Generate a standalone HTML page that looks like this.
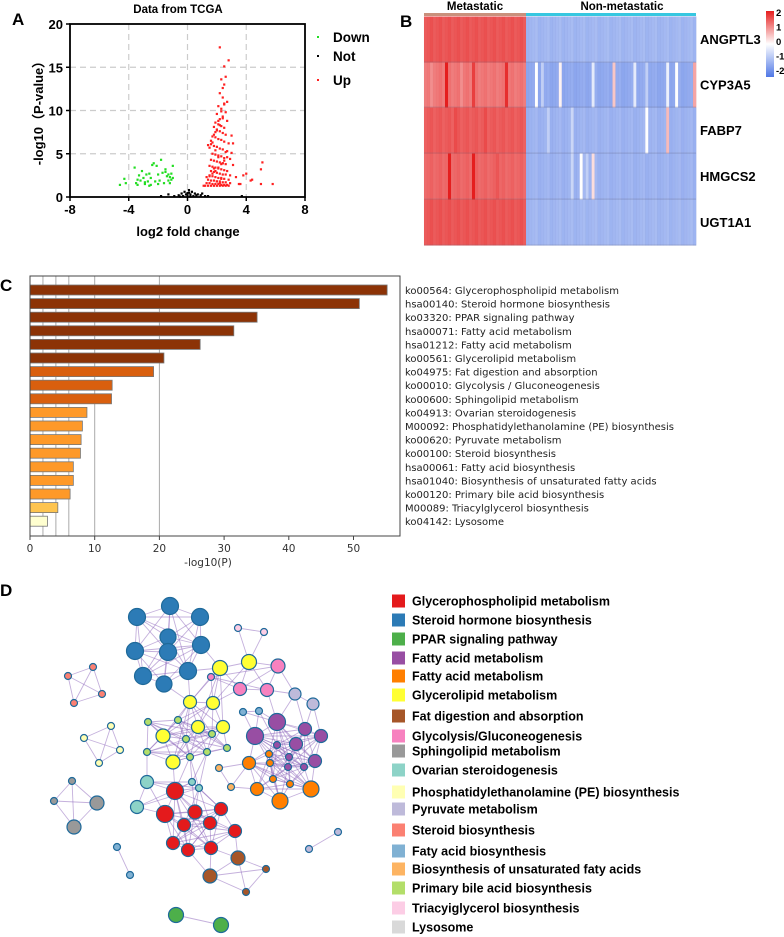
<!DOCTYPE html>
<html><head><meta charset="utf-8"><style>
html,body{margin:0;padding:0;background:#fff;width:784px;height:937px;overflow:hidden}
svg{display:block}
text{font-family:"Liberation Sans",Arial,sans-serif}
.dj{font-family:"DejaVu Sans","Liberation Sans",sans-serif}
</style></head><body>
<svg id="fig" width="784" height="937" viewBox="0 0 784 937" xmlns="http://www.w3.org/2000/svg">
<g id="pa"></g>
<g id="pb"></g>
<g id="pc"></g>
<g id="pd"></g>
</svg>
<script>
// ---------- Panel A data ----------
const downX=[-4.6,-4.3,-4.2,-3.6,-3.5,-3.4,-3.3,-3.2,-3.1,-3.0,-2.9,-2.8,-2.7,-2.6,-2.5,-2.5,-2.4,-2.3,-2.2,-2.1,-2.0,-2.0,-1.9,-1.8,-1.7,-1.6,-1.5,-1.4,-1.3,-1.3,-1.2,-1.2,-1.1,-1.1,-1.0,-1.0,-2.9,-3.4,-1.5,-2.6];
const downY=[1.4,2.1,1.6,3.4,1.6,2.0,2.5,1.9,3.0,2.2,1.5,2.6,1.8,2.7,1.4,2.2,3.7,3.9,1.8,3.6,2.6,1.5,1.9,4.3,2.8,1.6,3.2,2.4,2.6,1.9,2.3,1.6,2.7,2.0,3.6,2.2,1.7,1.4,2.9,1.3];
const notX=[-1.8,-1.3,-0.9,-0.6,-0.4,-0.3,-0.2,-0.1,0.0,0.1,0.1,0.2,0.3,0.4,0.5,0.6,0.7,0.9,1.0,1.2,1.4,3.7,-0.5,0.2,0.0];
const notY=[0.1,0.3,0.1,0.2,0.4,0.1,0.6,0.3,0.2,0.8,0.5,0.3,0.6,0.1,0.4,0.2,0.3,0.2,0.4,0.1,0.1,0.1,0.05,0.05,0.45];
const upX=[2.2,2.8,2.5,2.6,2.3,2.5,2.4,2.7,2.2,2.4,2.5,2.1,2.3,2.6,2.0,2.4,2.2,2.7,1.9,2.1,2.3,2.5,1.8,2.0,2.2,2.4,2.6,1.7,1.9,2.1,2.3,2.5,2.8,1.6,1.8,2.0,2.2,2.4,2.7,3.0,1.7,1.9,2.1,2.3,2.5,2.9,1.6,1.8,2.0,2.2,2.4,2.6,3.1,1.5,1.7,1.9,2.1,2.3,2.5,2.7,1.6,1.8,2.0,2.2,2.4,2.6,2.9,1.5,1.7,1.9,2.1,2.3,2.5,2.8,1.4,1.6,1.8,2.0,2.2,2.4,2.6,1.3,1.5,1.7,1.9,2.1,2.3,2.5,2.7,1.2,1.4,1.6,1.8,2.0,2.2,2.4,2.6,2.8,1.1,1.3,1.5,1.7,1.9,2.1,2.3,2.5,2.7,2.9,1.4,1.6,1.8,2.0,2.2,2.4,2.6,1.5,1.7,1.9,2.1,2.3,2.5,3.3,3.5,3.6,3.8,4.0,4.3,4.4,5.0,5.1,5.0,5.8,3.0,3.1,2.0,2.3,1.8,2.1,2.4,1.9,2.2];
const upY=[17.3,15.8,15.1,13.9,13.6,13.0,12.6,11.0,12.0,11.5,10.8,10.5,10.2,9.8,9.6,9.3,9.0,8.8,8.6,8.4,8.2,8.0,8.1,7.8,7.6,7.4,7.2,7.0,6.9,6.7,6.6,6.4,6.2,6.1,5.9,5.8,5.6,5.5,5.3,5.1,5.0,4.9,4.8,4.7,4.5,4.4,4.3,4.2,4.1,4.0,3.9,3.8,3.7,3.6,3.5,3.4,3.3,3.2,3.1,3.0,3.0,2.9,2.8,2.7,2.6,2.6,2.5,2.4,2.4,2.3,2.2,2.2,2.1,2.0,2.0,1.9,1.9,1.8,1.8,1.7,1.7,1.6,1.6,1.5,1.5,1.5,1.4,1.4,1.4,1.3,1.3,1.3,1.3,1.3,1.3,1.3,1.3,1.3,1.3,2.3,2.5,2.7,3.0,3.4,3.8,4.2,4.6,1.6,6.0,6.5,7.2,7.7,8.3,9.1,5.2,5.7,6.3,7.5,8.8,9.9,10.7,2.3,1.5,1.5,2.5,2.7,1.9,2.0,1.5,4.0,3.2,1.5,7.1,6.2,1.8,2.1,3.3,4.6,3.9,5.4,1.6];
const aXTicks=[-8,-4,0,4,8];
const aYTicks=[0,5,10,15,20];
// ---------- Panel B data ----------
const genes=["ANGPTL3","CYP3A5","FABP7","HMGCS2","UGT1A1"];
const metBase=[1.5,1.2,1.45,1.35,1.5];
const nonBase=[-1.05,-1.25,-1.1,-1.1,-1.05];
const metExc=[[],[[7,2.3],[16,1.7],[27,1.85],[2,1.0],[12,1.0]],[[10,1.6],[20,1.6]],[[8,2.3],[16,2.1],[24,1.5]],[]];
const nonExc=[[],[[3,0],[11,0.1],[22,-0.3],[29,0.5],[36,-0.3],[47,-0.2],[50,0],[56,0.8],[5,-0.7],[40,-0.7]],[[40,0],[47,0.6],[15,-0.6],[7,-0.7]],[[18,0],[22,0.3],[15,-0.6],[20,-0.7]],[]];
const cbLabels=["2","1","0","-1","-2"];
// ---------- Panel C data ----------
const terms=["ko00564: Glycerophospholipid metabolism","hsa00140: Steroid hormone biosynthesis","ko03320: PPAR signaling pathway","hsa00071: Fatty acid metabolism","hsa01212: Fatty acid metabolism","ko00561: Glycerolipid metabolism","ko04975: Fat digestion and absorption","ko00010: Glycolysis / Gluconeogenesis","ko00600: Sphingolipid metabolism","ko04913: Ovarian steroidogenesis","M00092: Phosphatidylethanolamine (PE) biosynthesis","ko00620: Pyruvate metabolism","ko00100: Steroid biosynthesis","hsa00061: Fatty acid biosynthesis","hsa01040: Biosynthesis of unsaturated fatty acids","ko00120: Primary bile acid biosynthesis","M00089: Triacylglycerol biosynthesis","ko04142: Lysosome"];
const pvals=[55.2,50.9,35.1,31.5,26.3,20.7,19.1,12.7,12.6,8.8,8.1,7.9,7.8,6.7,6.7,6.2,4.3,2.7];
const cTicks=[0,10,20,30,40,50];
const cGrid=[2,4,6,10,20];
// ---------- Panel D data ----------
const clusterNames=["Glycerophospholipid metabolism","Steroid hormone biosynthesis","PPAR signaling pathway","Fatty acid metabolism","Fatty acid metabolism","Glycerolipid metabolism","Fat digestion and absorption","Glycolysis/Gluconeogenesis","Sphingolipid metabolism","Ovarian steroidogenesis","Phosphatidylethanolamine (PE) biosynthesis","Pyruvate metabolism","Steroid biosynthesis","Faty acid biosynthesis","Biosynthesis of unsaturated faty acids","Primary bile acid biosynthesis","Triacyiglycerol biosynthesis","Lysosome"];
const clusterColors=["#e41a1c","#2c7bb6","#4daf4a","#984ea3","#ff7f00","#ffff33","#a65628","#f781bf","#999999","#8dd3c7","#ffffb3","#bebada","#fb8072","#80b1d3","#fdb462","#b3de69","#fccde5","#d9d9d9"];
const nodes=[
[1,137,617,8.5],[1,170,606,8.5],[1,200,617,8.5],[1,168,637,8],[1,135,651,8.5],[1,168,652,8.5],[1,201,645,8.5],[1,143,676,8.5],[1,164,684,8],[1,188,671,8.5],
[12,68,676,3.5],[12,93,667,3.5],[12,102,694,3.5],[12,74,703,3.5],
[10,111,726,3.5],[10,84,738,3.5],[10,120,750,3.5],[10,99,763,3.5],
[8,72,781,3.5],[8,54,801,3.5],[8,97,803,7],[8,74,827,7],
[13,117,847,3.5],[13,130,875,3.5],[13,243,712,3.5],[13,259,711,3.5],
[16,238,628,3.5],[16,264,632,3.5],
[11,295,694,6],[11,313,704,6],[11,338,832,3.5],[11,309,849,3.5],
[5,220,668,7.5],[5,249,662,7.5],[5,190,702,6.5],[5,213,703,6.5],[5,198,727,6.5],[5,223,727,6.5],[5,163,736,7],[5,173,762,7],
[7,278,666,7],[7,240,689,6.5],[7,267,690,6.5],[7,211,677,3.5],
[15,148,722,3.5],[15,147,752,3.5],[15,178,720,3.5],[15,186,739,3.5],[15,190,757,3.5],[15,207,752,3.5],[15,212,734,3.5],[15,227,748,3.5],
[3,277,722,8.5],[3,255,736,8.5],[3,305,729,6.5],[3,321,736,6.5],[3,296,744,6.5],[3,315,761,6.5],[3,277,745,3.5],[3,289,757,3.5],[3,288,767,3.5],[3,304,767,3.5],
[4,249,763,6.5],[4,257,789,6.5],[4,280,801,8],[4,311,789,8],[4,269,754,3.5],[4,270,763,3.5],[4,273,779,3.5],[4,290,784,3.5],
[14,219,768,3.5],[14,231,787,3.5],
[9,147,782,6.5],[9,137,807,6.5],[9,192,782,3.5],[9,199,788,3.5],
[0,175,791,8.5],[0,165,814,8.5],[0,195,812,7],[0,221,809,6.5],[0,184,825,6.5],[0,210,823,6.5],[0,235,831,6.5],[0,173,843,6.5],[0,188,850,6.5],[0,211,848,6.5],
[6,238,858,7],[6,210,876,7],[6,266,869,3.5],[6,246,892,3.5],
[2,176,915,7.5],[2,221,925,7.5]
];
const crossLinks=[[1,5],[5,7],[5,15],[7,11],[7,3],[3,4],[0,9],[0,6],[0,5],[5,4],[15,0],[14,4],[16,5],[13,3],[11,3],[9,15]];

const NS="http://www.w3.org/2000/svg";
function mk(tag,attrs,parent,txt){const e=document.createElementNS(NS,tag);for(const k in attrs)e.setAttribute(k,attrs[k]);if(txt!==undefined)e.textContent=txt;parent.appendChild(e);return e;}

// ===== Panel A =====
(function(){
const g=document.getElementById('pa');
const X0=70,X1=305,Y0=197,Y1=24;
const sx=v=>X0+(v+8)*(X1-X0)/16, sy=v=>Y0-v*(Y0-Y1)/20;
let t=mk('text',{x:12,y:25,'font-size':17,'font-weight':'bold'},g,'A');

t=mk('text',{x:178,y:13,'font-size':11.5,'font-weight':'bold','text-anchor':'middle'},g,'Data from TCGA');

aXTicks.slice(1,4).forEach(v=>{const l=mk('line',{x1:sx(v),x2:sx(v),y1:Y1,y2:Y0,stroke:'#ccc','stroke-dasharray':'6,4','stroke-width':1.2},g);});
aYTicks.slice(1,4).forEach(v=>{const l=mk('line',{x1:X0,x2:X1,y1:sy(v),y2:sy(v),stroke:'#ccc','stroke-dasharray':'6,4','stroke-width':1.2},g);});
const r=mk('rect',{x:X0,y:Y1,width:X1-X0,height:Y0-Y1,fill:'none',stroke:'#000','stroke-width':1.8},g);

aXTicks.forEach(v=>{mk('line',{x1:sx(v),x2:sx(v),y1:Y0,y2:Y0+4,stroke:'#000','stroke-width':1.5},g);
 const tt=mk('text',{x:sx(v),y:Y0+17,'font-size':13,'font-weight':'bold','text-anchor':'middle'},g,String(v));});
aYTicks.forEach(v=>{mk('line',{x1:X0-4,x2:X0,y1:sy(v),y2:sy(v),stroke:'#000','stroke-width':1.5},g);
 const tt=mk('text',{x:X0-7,y:sy(v)+5,'font-size':13,'font-weight':'bold','text-anchor':'end'},g,String(v));});
t=mk('text',{x:188,y:236,'font-size':13,'font-weight':'bold','text-anchor':'middle'},g,'log2 fold change');

t=mk('text',{x:0,y:0,'font-size':13,'font-weight':'bold','text-anchor':'middle',transform:'translate(43,110) rotate(-90)'},g,'-log10（P-value）');

function pts(xs,ys,col,name){xs.forEach((x,i)=>{const c=mk('rect',{x:sx(x)-1.1,y:sy(ys[i])-1.1,width:2.2,height:2.2,fill:col},g);});}
pts(downX,downY,'#22dd22','down-point');pts(notX,notY,'#000','not-point');pts(upX,upY,'#ff2020','up-point');
[['Down','#22dd22',37],['Not','#000',56],['Up','#ff2020',80]].forEach(([n,c,y])=>{
 const d=mk('rect',{x:317,y:y-1,width:2,height:2,fill:c},g);
 const tt=mk('text',{x:333,y:y+5,'font-size':13.5,'font-weight':'bold'},g,n);});
})();

// ===== Panel B =====
(function(){
const g=document.getElementById('pb');
const X0=424,XM=526,X1=696,rowT=[16,62,107,153,199,245];
const NM=34,NN=57;
function col(v){v=Math.max(-2,Math.min(2,v));let r,gg,b;
 if(v>=0){const t=v/2;r=255-t*25;gg=255-t*225;b=255-t*225;}else{const t=-v/2;r=255-t*175;gg=255-t*135;b=255-t*25;}
 return `rgb(${r|0},${gg|0},${b|0})`;}
let t=mk('text',{x:400,y:27,'font-size':17,'font-weight':'bold'},g,'B');
t=mk('text',{x:475,y:10,'font-size':11.5,'font-weight':'bold','text-anchor':'middle'},g,'Metastatic');
t=mk('text',{x:622,y:10,'font-size':11.5,'font-weight':'bold','text-anchor':'middle'},g,'Non-metastatic');
let r=mk('rect',{x:X0,y:13,width:XM-X0,height:3,fill:'#c9907c'},g);
r=mk('rect',{x:XM,y:13,width:X1-XM,height:3,fill:'#36c7e0'},g);
genes.forEach((gn,ri)=>{
 const y=rowT[ri]+0.5,h=rowT[ri+1]-rowT[ri];
 const wm=(XM-X0)/NM,wn=(X1-XM)/NN;
 const em=Object.fromEntries(metExc[ri]),en=Object.fromEntries(nonExc[ri]);
 for(let c=0;c<NM;c++){const v=(c in em)?em[c]:metBase[ri]+((c%3)-1)*0.05;
  const cell=mk('rect',{x:X0+c*wm,y:y,width:wm+0.3,height:h,fill:col(v),stroke:'rgba(120,0,0,0.04)','stroke-width':0.5},g);}
 for(let c=0;c<NN;c++){const v=(c in en)?en[c]:nonBase[ri]+((c%4)-1.5)*0.04;
  const cell=mk('rect',{x:XM+c*wn,y:y,width:wn+0.3,height:h,fill:col(v),stroke:'rgba(0,0,80,0.04)','stroke-width':0.5},g);}
 mk('line',{x1:X0,x2:X1,y1:rowT[ri+1],y2:rowT[ri+1],stroke:'rgba(100,100,130,0.35)','stroke-width':0.8},g);
 const tt=mk('text',{x:700,y:(rowT[ri]+rowT[ri+1])/2+5,'font-size':13,'font-weight':'bold'},g,gn);
});
const defs=mk('defs',{},g);const lg=mk('linearGradient',{id:'cbg',x1:0,y1:0,x2:0,y2:1},defs);
mk('stop',{offset:'0%','stop-color':col(2)},lg);mk('stop',{offset:'50%','stop-color':'#fff'},lg);mk('stop',{offset:'100%','stop-color':col(-2)},lg);
r=mk('rect',{x:766,y:11,width:8,height:66,fill:'url(#cbg)'},g);
cbLabels.forEach((l,i)=>{const tt=mk('text',{x:776,y:16+i*14.5,'font-size':9.5,'font-weight':'bold'},g,l);});
})();

// ===== Panel C =====
(function(){
const g=document.getElementById('pc');
const X0=30,X1=400,Y0=276,Y1=536;const sx=v=>X0+v*6.47;
let t=mk('text',{x:0,y:291,'font-size':17,'font-weight':'bold'},g,'C');
cGrid.forEach(v=>{const l=mk('line',{x1:sx(v),x2:sx(v),y1:Y0,y2:Y1,stroke:'#aaa','stroke-width':1},g);});
function bc(i){return i<6?'#8c3306':i<9?'#d95f0e':i<16?'#fe9929':i<17?'#fec44f':'#ffffd0';}
pvals.forEach((v,i)=>{const y=285+i*13.6;
 const b=mk('rect',{x:X0,y:y,width:sx(v)-X0,height:10,fill:bc(i),stroke:'#777','stroke-width':0.8},g);
 const tt=mk('text',{x:405,y:y+9,'font-size':10,class:'dj',fill:'#222'},g,terms[i]);});
const fr=mk('path',{d:`M${X0},${Y1} V${Y0} H${X1} V${Y1} H${X0}`,fill:'none',stroke:'#444','stroke-width':1},g);
cTicks.forEach(v=>{mk('line',{x1:sx(v),x2:sx(v),y1:Y1,y2:Y1+4,stroke:'#444'},g);
 const tt=mk('text',{x:sx(v),y:Y1+16,'font-size':10.5,class:'dj','text-anchor':'middle',fill:'#333'},g,String(v));});
t=mk('text',{x:208,y:566,'font-size':10.5,class:'dj','text-anchor':'middle',fill:'#333'},g,'-log10(P)');
})();

// ===== Panel D =====
(function(){
const g=document.getElementById('pd');
let t=mk('text',{x:0,y:596,'font-size':17,'font-weight':'bold'},g,'D');
const eg=mk('g',{stroke:'#9470c0','stroke-opacity':0.55,'stroke-width':0.9},g);

for(let i=0;i<nodes.length;i++)for(let j=i+1;j<nodes.length;j++){
 const a=nodes[i],b=nodes[j];let link=false;
 if(a[0]===b[0]){const d=Math.hypot(a[1]-b[1],a[2]-b[2]);link=d<70;}
 else{for(const [p,q] of crossLinks){if((a[0]===p&&b[0]===q)||(a[0]===q&&b[0]===p)){const d=Math.hypot(a[1]-b[1],a[2]-b[2]);if(d<40)link=true;}}}
 if(link){const l=mk('line',{x1:a[1],y1:a[2],x2:b[1],y2:b[2]},eg);}
}
nodes.forEach(n=>{const c=mk('circle',{cx:n[1],cy:n[2],r:n[3],fill:clusterColors[n[0]],stroke:'#1f6a9a','stroke-width':1.2},g);
 });
const ly=[601,620,639,658,676,695,716,736,751,770,792,809,830,851,869,888,908,927];
clusterNames.forEach((n,i)=>{
 const s=mk('rect',{x:392,y:ly[i]-6.5,width:13,height:13,fill:clusterColors[i]},g);
 const tt=mk('text',{x:412,y:ly[i]+4.5,'font-size':12.5,'font-weight':'bold'},g,n);});
})();
</script>
</body></html>
